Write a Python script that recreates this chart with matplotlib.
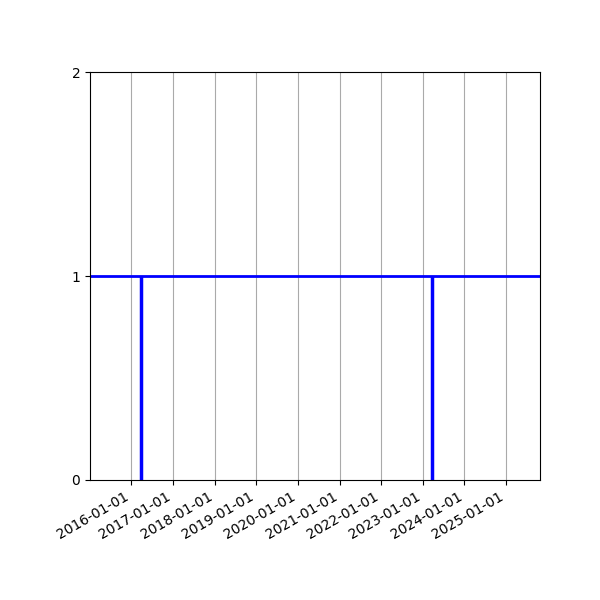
import numpy as np
import matplotlib
matplotlib.use("Agg")
import matplotlib.pyplot as plt
import matplotlib.dates as mdates
import datetime as dt

# data
level = 1
event_dates = [dt.datetime(2016, 3, 25), dt.datetime(2023, 3, 20)]
x_start = dt.datetime(2015, 1, 4)
x_end = dt.datetime(2025, 10, 26)
yticks = [0, 1, 2]

fig, ax = plt.subplots(figsize=(6, 6), dpi=100)

ax.axhline(level, color='blue', linewidth=2)
ax.vlines(event_dates, 0, level, color='blue', linewidth=2.5)

ax.set_xlim(x_start, x_end)
ax.set_ylim(0, 2)
ax.set_yticks(yticks)
ax.xaxis.set_major_locator(mdates.YearLocator())
ax.xaxis.set_major_formatter(mdates.DateFormatter('%Y-%m-%d'))
ax.grid(axis='x', color='#aaaaaa', linewidth=0.8)

fig.autofmt_xdate()
fig.subplots_adjust(left=0.15, right=0.9, top=0.88, bottom=0.2)
fig.savefig('out.png')
